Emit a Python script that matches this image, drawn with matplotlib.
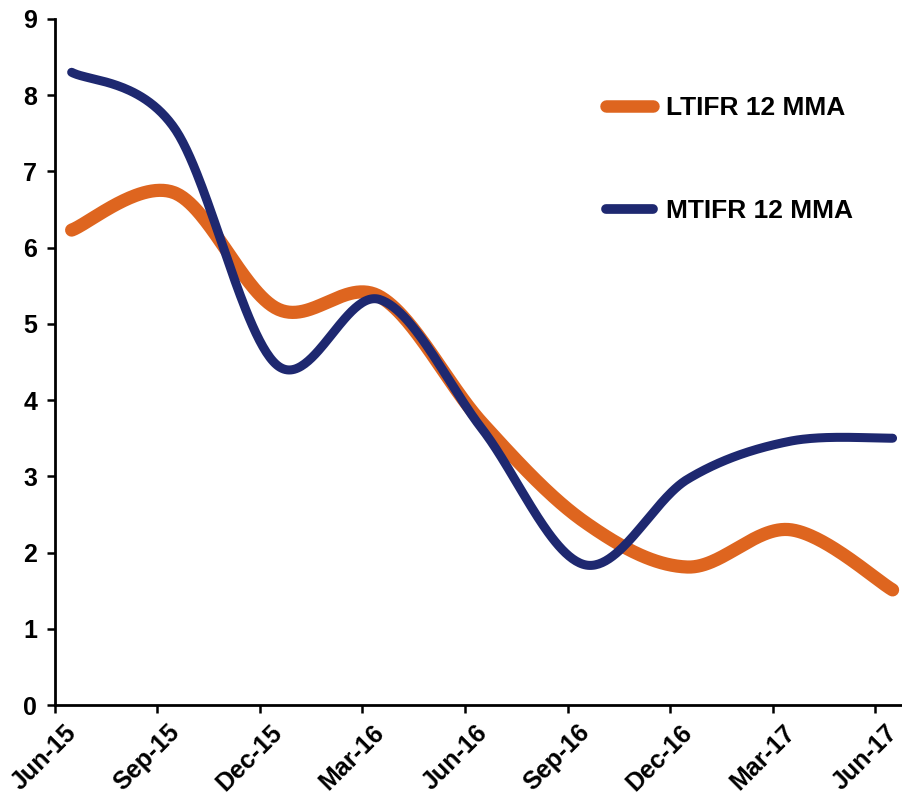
import numpy as np
import matplotlib
matplotlib.use("Agg")
import matplotlib.pyplot as plt
from matplotlib.transforms import ScaledTranslation

# Quarterly readings (12-month moving averages)
quarters = ["Jun-15", "Sep-15", "Dec-15", "Mar-16", "Jun-16",
            "Sep-16", "Dec-16", "Mar-17", "Jun-17"]
ltifr = [6.23, 6.72, 5.20, 5.36, 3.70, 2.40, 1.81, 2.30, 1.51]
mtifr = [8.30, 7.57, 4.46, 5.32, 3.62, 1.84, 2.96, 3.46, 3.50]

ORANGE = "#DE651F"
NAVY = "#1E2870"

plt.rcParams["font.family"] = ["Liberation Sans", "DejaVu Sans"]
plt.rcParams["font.weight"] = "bold"


def smooth_curve(xs, ys, n=60):
    """Bezier smoothing through the points (Catmull-Rom style tangents)."""
    pts = np.column_stack([xs, ys]).astype(float)
    ext = np.vstack([pts[0], pts, pts[-1]])
    t = np.linspace(0, 1, n)[:, None]
    out = []
    for i in range(len(pts) - 1):
        p0, p1, p2, p3 = ext[i], ext[i + 1], ext[i + 2], ext[i + 3]
        c1 = p1 + (p2 - p0) / 6.0
        c2 = p2 - (p3 - p1) / 6.0
        seg = ((1 - t) ** 3) * p1 + 3 * ((1 - t) ** 2) * t * c1 \
            + 3 * (1 - t) * t ** 2 * c2 + t ** 3 * p2
        out.append(seg if i == 0 else seg[1:])
    curve = np.vstack(out)
    return curve[:, 0], curve[:, 1]


# Monthly category axis: each quarter sits on its month, ticks on boundaries
x_pos = np.arange(len(quarters)) * 3

fig = plt.figure(figsize=(9.03, 7.95), dpi=100)
ax = fig.add_axes([0.0604, 0.1132, 0.947, 0.863])

lx, ly = smooth_curve(x_pos, ltifr)
mx, my = smooth_curve(x_pos, mtifr)
ax.plot(lx, ly, color=ORANGE, lw=9.5, solid_capstyle="round",
        solid_joinstyle="round", label="LTIFR 12 MMA", zorder=2)
ax.plot(mx, my, color=NAVY, lw=6.5, solid_capstyle="round",
        solid_joinstyle="round", label="MTIFR 12 MMA", zorder=3)

ax.set_xlim(-0.5, 24.5)
ax.set_ylim(0, 9)
ax.set_yticks(range(0, 10))
ax.set_xticks(x_pos - 0.5)
ax.set_xticklabels(quarters, rotation=45, ha="right", va="top",
                   rotation_mode="anchor")

for side in ("top", "right"):
    ax.spines[side].set_visible(False)
for side in ("left", "bottom"):
    ax.spines[side].set_linewidth(2.0)
    ax.spines[side].set_color("black")

ax.tick_params(axis="both", direction="out", length=5.5, width=1.8,
               colors="black", labelsize=18)
ax.tick_params(axis="y", pad=7)
ax.tick_params(axis="x", pad=4)

# nudge the slanted date labels so they finish just right of their ticks
shift = ScaledTranslation(10 / 100, -2 / 100, fig.dpi_scale_trans)
for lab in ax.get_xticklabels():
    lab.set_transform(lab.get_transform() + shift)
for lab in ax.get_xticklabels() + ax.get_yticklabels():
    lab.set_fontweight("bold")

leg = ax.legend(loc="upper left", bbox_to_anchor=(0.632, 0.903),
                frameon=False, fontsize=19, handlelength=1.8,
                handletextpad=0.5, labelspacing=3.0, borderaxespad=0.0)
for h in leg.get_lines():
    h.set_solid_capstyle("round")
    h.set_linewidth(9 if h.get_color() == ORANGE else 7)
for t in leg.get_texts():
    t.set_fontweight("bold")

fig.savefig("out.png", dpi=100)
